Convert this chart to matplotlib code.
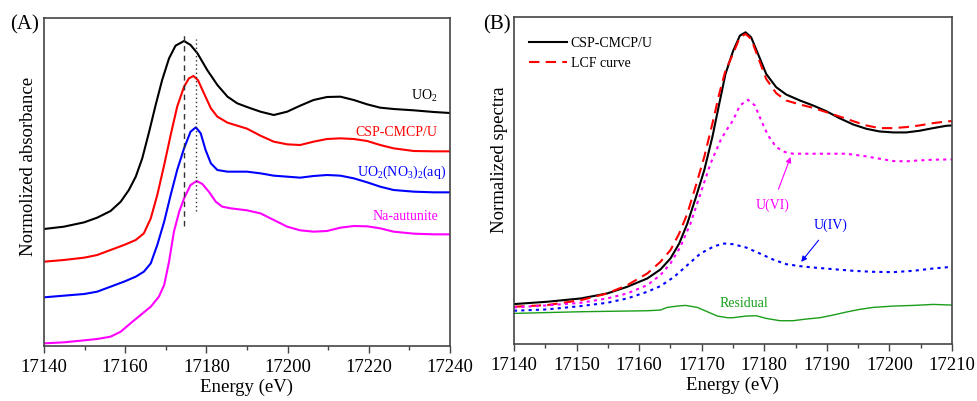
import numpy as np
import matplotlib
matplotlib.use("Agg")
import matplotlib.pyplot as plt
from matplotlib.ticker import MultipleLocator, NullLocator

plt.rcParams['font.family'] = ['Liberation Serif', 'DejaVu Serif']
plt.rcParams['mathtext.fontset'] = 'custom'
plt.rcParams['mathtext.rm'] = 'Liberation Serif'
plt.rcParams['mathtext.it'] = 'Liberation Serif:italic'

# ---- panel A: reference spectra (arbitrary offset units) ----
uo2_e = [17140, 17144.9, 17149.9, 17153.1, 17156.4, 17158.9, 17160.9, 17162.6, 17164.2, 17165.9,
         17167.5, 17169.1, 17170.8, 17172.4, 17174.5, 17176.1, 17177.8, 17180.2, 17182.7, 17185.2,
         17187.6, 17190, 17193.3, 17196.6, 17199.9, 17203.1, 17206.4, 17209.7, 17213.0, 17216.3,
         17219.6, 17222.8, 17226.1, 17231.1, 17236.0, 17240]
uo2_y = [3.51, 3.58, 3.71, 3.85, 4.05, 4.33, 4.68, 5.08, 5.63, 6.43,
         7.23, 7.98, 8.63, 9.01, 9.15, 9.03, 8.78, 8.28, 7.83, 7.48,
         7.28, 7.17, 7.03, 6.93, 7.03, 7.21, 7.38, 7.47, 7.48, 7.38,
         7.25, 7.15, 7.11, 7.07, 7.02, 6.99]

csp_e = [17140, 17144.9, 17149.9, 17153.1, 17156.4, 17159.7, 17162.6, 17164.6, 17166.3, 17167.9,
         17169.6, 17171.2, 17172.8, 17174.5, 17175.7, 17176.8, 17177.9, 17179.4, 17181.1, 17182.7,
         17185.2, 17187.6, 17190, 17193.3, 17196.6, 17199.9, 17203.1, 17206.4, 17209.7, 17213.0,
         17216.3, 17219.6, 17222.8, 17226.1, 17231.1, 17236.0, 17240]
csp_y = [2.53, 2.58, 2.65, 2.73, 2.88, 3.03, 3.18, 3.38, 3.83, 4.53,
         5.43, 6.33, 7.18, 7.78, 8.03, 8.10, 7.98, 7.58, 7.13, 6.88,
         6.70, 6.61, 6.52, 6.31, 6.13, 6.05, 6.03, 6.13, 6.21, 6.23,
         6.21, 6.15, 6.03, 5.93, 5.85, 5.84, 5.84]

nit_e = [17140, 17144.9, 17149.9, 17153.1, 17156.4, 17159.7, 17162.6, 17164.6, 17166.3, 17167.9,
         17169.6, 17171.2, 17172.8, 17174.5, 17176.1, 17177.4, 17178.6, 17179.8, 17181.1, 17182.7,
         17185.2, 17187.6, 17190, 17193.3, 17196.6, 17199.9, 17203.1, 17206.4, 17209.7, 17213.0,
         17216.3, 17219.6, 17222.8, 17226.1, 17231.1, 17236.0, 17240]
nit_y = [1.46, 1.51, 1.56, 1.63, 1.78, 1.93, 2.08, 2.23, 2.48, 3.03,
         3.73, 4.53, 5.28, 5.93, 6.43, 6.56, 6.38, 5.88, 5.48, 5.28,
         5.23, 5.23, 5.23, 5.18, 5.11, 5.08, 5.05, 5.10, 5.13, 5.11,
         5.03, 4.91, 4.78, 4.68, 4.63, 4.61, 4.61]

aut_e = [17140, 17144.9, 17149.9, 17153.1, 17156.4, 17158.9, 17161.3, 17163.8, 17166.3, 17168.3,
         17169.6, 17170.8, 17172.0, 17173.3, 17174.5, 17176.1, 17177.6, 17179.0, 17180.6, 17182.3,
         17183.9, 17186.0, 17188.0, 17190, 17193.3, 17196.6, 17199.9, 17203.1, 17206.4, 17209.7,
         17213.0, 17216.3, 17219.6, 17222.8, 17226.1, 17231.1, 17236.0, 17240]
aut_y = [0.08, 0.11, 0.17, 0.21, 0.28, 0.43, 0.68, 0.93, 1.18, 1.48,
         1.83, 2.53, 3.43, 4.03, 4.43, 4.83, 4.95, 4.86, 4.63, 4.33,
         4.18, 4.13, 4.10, 4.07, 3.98, 3.78, 3.58, 3.47, 3.43, 3.45,
         3.55, 3.60, 3.59, 3.53, 3.43, 3.37, 3.35, 3.35]

# ---- panel B: linear combination fit ----
b_exp_e = [17140, 17145.3, 17150.7, 17154.9, 17158.1, 17161.3, 17163.4, 17165.0, 17166.4, 17167.7,
           17169.0, 17170.4, 17171.7, 17172.8, 17173.8, 17175.0, 17176.1, 17177.0, 17177.9, 17179.0,
           17180.3, 17181.9, 17183.5, 17185.7, 17187.8, 17189.9, 17192.0, 17194.2, 17196.3, 17198.4,
           17200.6, 17202.7, 17204.8, 17207.0, 17209.1, 17210]
b_exp_y = [1.20, 1.27, 1.37, 1.52, 1.72, 1.97, 2.24, 2.57, 3.02, 3.62,
           4.37, 5.22, 6.22, 7.22, 8.12, 8.80, 9.27, 9.37, 9.22, 8.72,
           8.12, 7.72, 7.50, 7.32, 7.17, 7.00, 6.79, 6.60, 6.47, 6.39,
           6.36, 6.36, 6.41, 6.49, 6.56, 6.57]

b_lcf_e = b_exp_e
b_lcf_y = [1.12, 1.17, 1.32, 1.52, 1.77, 2.12, 2.47, 2.82, 3.32, 3.92,
           4.72, 5.62, 6.62, 7.52, 8.22, 8.72, 9.22, 9.32, 9.17, 8.62,
           7.97, 7.54, 7.32, 7.20, 7.10, 6.97, 6.84, 6.70, 6.57, 6.49,
           6.49, 6.52, 6.57, 6.64, 6.69, 6.70]

b_u6_e = [17140, 17145.3, 17150.7, 17154.9, 17158.1, 17161.3, 17163.4, 17165.0, 17166.6, 17168.2,
          17169.8, 17171.4, 17173.0, 17174.1, 17175.0, 17176.1, 17177.4, 17178.5, 17179.5, 17180.6,
          17181.9, 17183.3, 17184.6, 17186.7, 17189.9, 17193.1, 17196.3, 17198.4, 17200.6, 17202.7,
          17204.8, 17207.0, 17210]
b_u6_y = [1.10, 1.16, 1.24, 1.37, 1.52, 1.77, 2.07, 2.42, 2.92, 3.62,
          4.52, 5.42, 6.12, 6.47, 6.72, 7.17, 7.34, 7.17, 6.72, 6.27,
          5.92, 5.77, 5.72, 5.72, 5.72, 5.72, 5.64, 5.57, 5.50, 5.49,
          5.52, 5.54, 5.55]

b_u4_e = [17140, 17145.3, 17150.7, 17154.9, 17158.1, 17161.3, 17163.4, 17165.6, 17167.7, 17169.8,
          17172.0, 17173.6, 17175.0, 17177.1, 17179.3, 17181.4, 17183.5, 17185.7, 17187.8, 17191.0,
          17194.2, 17197.4, 17200.6, 17203.8, 17207.0, 17210]
b_u4_y = [1.00, 1.04, 1.14, 1.24, 1.37, 1.57, 1.74, 2.02, 2.37, 2.72,
          2.94, 3.02, 3.00, 2.90, 2.72, 2.54, 2.40, 2.34, 2.30, 2.25,
          2.20, 2.17, 2.16, 2.20, 2.27, 2.32]

b_res_e = [17140, 17150.7, 17161.3, 17163.4, 17164.5, 17166.1, 17167.4, 17169.3, 17170.9, 17172.5,
           17174.1, 17175.0, 17177.1, 17178.7, 17180.3, 17182.5, 17184.6, 17186.7, 17188.9, 17191.0,
           17193.1, 17195.2, 17197.4, 17200.6, 17203.8, 17207.0, 17210]
b_res_y = [0.92, 0.97, 1.00, 1.02, 1.10, 1.14, 1.16, 1.10, 0.97, 0.84,
           0.79, 0.79, 0.84, 0.85, 0.77, 0.70, 0.70, 0.75, 0.79, 0.87,
           0.96, 1.04, 1.10, 1.14, 1.16, 1.19, 1.17]

W, H = 977, 401
fig = plt.figure(figsize=(W / 100, H / 100), dpi=100)
axA = fig.add_axes([44 / W, (H - 346) / H, 406 / W, 328 / H])
axB = fig.add_axes([514 / W, (H - 344) / H, 438 / W, 327 / H])


def style(ax, major, minor):
    for sp in ax.spines.values():
        sp.set_color('#444444')
        sp.set_linewidth(1.2)
    ax.xaxis.set_major_locator(MultipleLocator(major))
    ax.xaxis.set_minor_locator(MultipleLocator(minor))
    ax.yaxis.set_major_locator(NullLocator())
    ax.tick_params(axis='x', which='major', direction='out', length=5, width=1,
                   color='#444444', labelsize=13.5, pad=4)
    ax.tick_params(axis='x', which='minor', direction='out', length=3, width=1,
                   color='#444444')
    ax.set_xlabel('Energy (eV)', fontsize=13.5, labelpad=2)


# panel A
lw = 1.5
axA.plot(uo2_e, uo2_y, color='black', lw=lw)
axA.plot(csp_e, csp_y, color='red', lw=lw)
axA.plot(nit_e, nit_y, color='blue', lw=lw)
axA.plot(aut_e, aut_y, color='magenta', lw=lw)
axA.plot([17174.5, 17174.5], [3.59, 9.39], color='#333333', lw=1, ls=(0, (4, 3)))
axA.plot([17177.4, 17177.4], [4.05, 9.22], color='#333333', lw=1, ls=(0, (1, 2)))
axA.set_xlim(17140, 17240)
axA.set_ylim(0, 9.84)
style(axA, 20, 10)
axA.set_ylabel('Normolized absorbance', fontsize=13.5)
axA.yaxis.set_label_coords(-0.018, 0.546)
axA.text(17237, 7.5, r'$\mathregular{UO_2}$', color='black', fontsize=10, ha='right', va='center')
axA.text(17237, 6.42, 'CSP-CMCP/U', color='red', fontsize=10, ha='right', va='center')
axA.text(17239, 5.2, r'$\mathregular{UO_2(NO_3)_2(aq)}$', color='blue', fontsize=10, ha='right', va='center')
axA.text(17237, 3.87, 'Na-autunite', color='magenta', fontsize=10, ha='right', va='center')
fig.text(10 / W, 1 - 25 / H, '(A)', fontsize=15, va='center')

# panel B
dots = (0, (1.5, 2))
axB.plot(b_exp_e, b_exp_y, color='black', lw=lw, label='CSP-CMCP/U')
axB.plot(b_lcf_e, b_lcf_y, color='red', lw=lw, ls=(0, (5, 3)), label='LCF curve')
axB.plot(b_u6_e, b_u6_y, color='magenta', lw=lw, ls=dots)
axB.plot(b_u4_e, b_u4_y, color='blue', lw=lw, ls=dots)
axB.plot(b_res_e, b_res_y, color='#1a9e1a', lw=1)
axB.set_xlim(17140, 17210)
axB.set_ylim(0, 9.83)
style(axB, 10, 5)
axB.set_ylabel('Normalized spectra', fontsize=13.5)
axB.yaxis.set_label_coords(-0.014, 0.563)
axB.legend(loc='upper left', frameon=False, fontsize=10, handlelength=2.75,
           handletextpad=0.25, labelspacing=0.45, borderaxespad=0,
           bbox_to_anchor=(0.022, 0.955))
axB.annotate('U(VI)', xy=(17184.2, 5.62), xytext=(17181.3, 4.17), color='magenta',
             fontsize=10, ha='center', va='center',
             arrowprops=dict(arrowstyle='-|>', color='magenta', lw=0.8,
                             shrinkA=5, shrinkB=0, mutation_scale=8))
axB.annotate('U(IV)', xy=(17185.9, 2.47), xytext=(17190.6, 3.57), color='blue',
             fontsize=10, ha='center', va='center',
             arrowprops=dict(arrowstyle='-|>', color='blue', lw=0.8,
                             shrinkA=5, shrinkB=0, mutation_scale=8))
axB.text(17176.8, 1.21, 'Residual', color='#1a9e1a', fontsize=10, ha='center', va='center')
fig.text(483 / W, 1 - 25 / H, '(B)', fontsize=15, va='center')

fig.savefig('out.png', dpi=100)
